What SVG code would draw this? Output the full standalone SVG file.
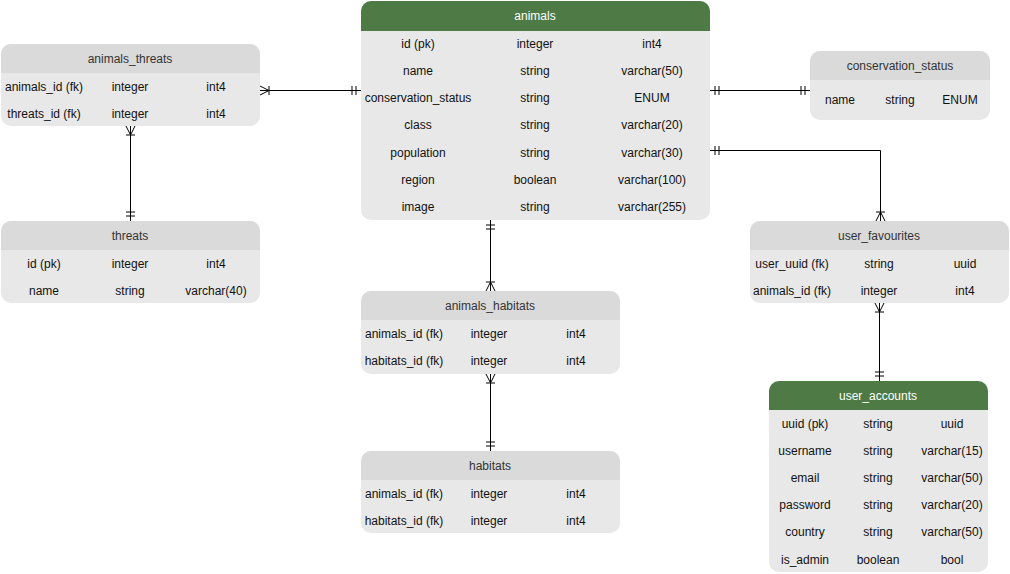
<svg xmlns="http://www.w3.org/2000/svg" width="1010" height="574" viewBox="0 0 1010 574">
<style>
.body{fill:#e8e8e8}
.hdr{fill:#dadada}
.ghdr{fill:#4e7a45}
text{font-family:"Liberation Sans",Arial,sans-serif;font-size:12px;text-anchor:middle;fill:#111}
text.h{fill:#333}
text.w{fill:#fff}
.ln{fill:none;stroke:#000;stroke-width:1}
</style>
<defs>
<marker id="one" viewBox="-14 -7 16 14" refX="0" refY="0" markerWidth="16" markerHeight="14" markerUnits="userSpaceOnUse" orient="auto-start-reverse" overflow="visible">
<path d="M-9,-4.5V4.5M-5,-4.5V4.5" stroke="#000" stroke-width="1" fill="none"/>
</marker>
<marker id="many" viewBox="-14 -7 16 14" refX="0" refY="0" markerWidth="16" markerHeight="14" markerUnits="userSpaceOnUse" orient="auto-start-reverse" overflow="visible">
<path d="M-9,-4.5V4.5M0,-4.5L-9,0L0,4.5" stroke="#000" stroke-width="1" fill="none"/>
</marker>
</defs>

<g id="connectors">
<path class="ln" d="M260,90.5H361" marker-start="url(#many)" marker-end="url(#one)"/>
<path class="ln" d="M130.5,126V221" marker-start="url(#many)" marker-end="url(#one)"/>
<path class="ln" d="M710,90.5H810" marker-start="url(#one)" marker-end="url(#one)"/>
<path class="ln" d="M710,150.5H880.5V221" marker-start="url(#one)" marker-end="url(#many)"/>
<path class="ln" d="M490.5,220V291" marker-start="url(#one)" marker-end="url(#many)"/>
<path class="ln" d="M490.5,374V451" marker-start="url(#many)" marker-end="url(#one)"/>
<path class="ln" d="M879.5,303V381" marker-start="url(#many)" marker-end="url(#one)"/>
</g>

<g id="animals">
<rect class="body" x="361" y="1" width="349" height="219" rx="10"/>
<path class="ghdr" d="M361,31V11A10,10 0 0 1 371,1H700A10,10 0 0 1 710,11V31Z"/>
<text class="w" x="535" y="20">animals</text>
<text x="418" y="48">id (pk)</text><text x="535" y="48">integer</text><text x="652" y="48">int4</text>
<text x="418" y="75">name</text><text x="535" y="75">string</text><text x="652" y="75">varchar(50)</text>
<text x="418" y="102">conservation_status</text><text x="535" y="102">string</text><text x="652" y="102">ENUM</text>
<text x="418" y="129">class</text><text x="535" y="129">string</text><text x="652" y="129">varchar(20)</text>
<text x="418" y="157">population</text><text x="535" y="157">string</text><text x="652" y="157">varchar(30)</text>
<text x="418" y="184">region</text><text x="535" y="184">boolean</text><text x="652" y="184">varchar(100)</text>
<text x="418" y="211">image</text><text x="535" y="211">string</text><text x="652" y="211">varchar(255)</text>
</g>

<g id="animals_threats">
<rect class="body" x="1" y="44" width="259" height="82" rx="10"/>
<path class="hdr" d="M1,73V54A10,10 0 0 1 11,44H250A10,10 0 0 1 260,54V73Z"/>
<text class="h" x="130" y="63">animals_threats</text>
<text x="44" y="91">animals_id (fk)</text><text x="130" y="91">integer</text><text x="216" y="91">int4</text>
<text x="44" y="118">threats_id (fk)</text><text x="130" y="118">integer</text><text x="216" y="118">int4</text>
</g>

<g id="threats">
<rect class="body" x="1" y="221" width="259" height="82" rx="10"/>
<path class="hdr" d="M1,250V231A10,10 0 0 1 11,221H250A10,10 0 0 1 260,231V250Z"/>
<text class="h" x="130" y="240">threats</text>
<text x="44" y="268">id (pk)</text><text x="130" y="268">integer</text><text x="216" y="268">int4</text>
<text x="44" y="295">name</text><text x="130" y="295">string</text><text x="216" y="295">varchar(40)</text>
</g>

<g id="conservation_status">
<rect class="body" x="810" y="51" width="180" height="69" rx="10"/>
<path class="hdr" d="M810,80V61A10,10 0 0 1 820,51H980A10,10 0 0 1 990,61V80Z"/>
<text class="h" x="900" y="70">conservation_status</text>
<text x="840" y="104">name</text><text x="900" y="104">string</text><text x="960" y="104">ENUM</text>
</g>

<g id="user_favourites">
<rect class="body" x="750" y="221" width="259" height="82" rx="10"/>
<path class="hdr" d="M750,250V231A10,10 0 0 1 760,221H999A10,10 0 0 1 1009,231V250Z"/>
<text class="h" x="879" y="240">user_favourites</text>
<text x="792" y="268">user_uuid (fk)</text><text x="879" y="268">string</text><text x="965" y="268">uuid</text>
<text x="792" y="295">animals_id (fk)</text><text x="879" y="295">integer</text><text x="965" y="295">int4</text>
</g>

<g id="user_accounts">
<rect class="body" x="769" y="381" width="219" height="191" rx="10"/>
<path class="ghdr" d="M769,410V391A10,10 0 0 1 779,381H978A10,10 0 0 1 988,391V410Z"/>
<text class="w" x="878" y="400">user_accounts</text>
<text x="805" y="428">uuid (pk)</text><text x="878" y="428">string</text><text x="952" y="428">uuid</text>
<text x="805" y="455">username</text><text x="878" y="455">string</text><text x="952" y="455">varchar(15)</text>
<text x="805" y="482">email</text><text x="878" y="482">string</text><text x="952" y="482">varchar(50)</text>
<text x="805" y="509">password</text><text x="878" y="509">string</text><text x="952" y="509">varchar(20)</text>
<text x="805" y="536">country</text><text x="878" y="536">string</text><text x="952" y="536">varchar(50)</text>
<text x="805" y="564">is_admin</text><text x="878" y="564">boolean</text><text x="952" y="564">bool</text>
</g>

<g id="animals_habitats">
<rect class="body" x="361" y="291" width="259" height="83" rx="10"/>
<path class="hdr" d="M361,320V301A10,10 0 0 1 371,291H610A10,10 0 0 1 620,301V320Z"/>
<text class="h" x="490" y="310">animals_habitats</text>
<text x="404" y="338">animals_id (fk)</text><text x="489" y="338">integer</text><text x="576" y="338">int4</text>
<text x="404" y="365">habitats_id (fk)</text><text x="489" y="365">integer</text><text x="576" y="365">int4</text>
</g>

<g id="habitats">
<rect class="body" x="361" y="451" width="259" height="82" rx="10"/>
<path class="hdr" d="M361,480V461A10,10 0 0 1 371,451H610A10,10 0 0 1 620,461V480Z"/>
<text class="h" x="490" y="470">habitats</text>
<text x="404" y="498">animals_id (fk)</text><text x="489" y="498">integer</text><text x="576" y="498">int4</text>
<text x="404" y="525">habitats_id (fk)</text><text x="489" y="525">integer</text><text x="576" y="525">int4</text>
</g>
</svg>
